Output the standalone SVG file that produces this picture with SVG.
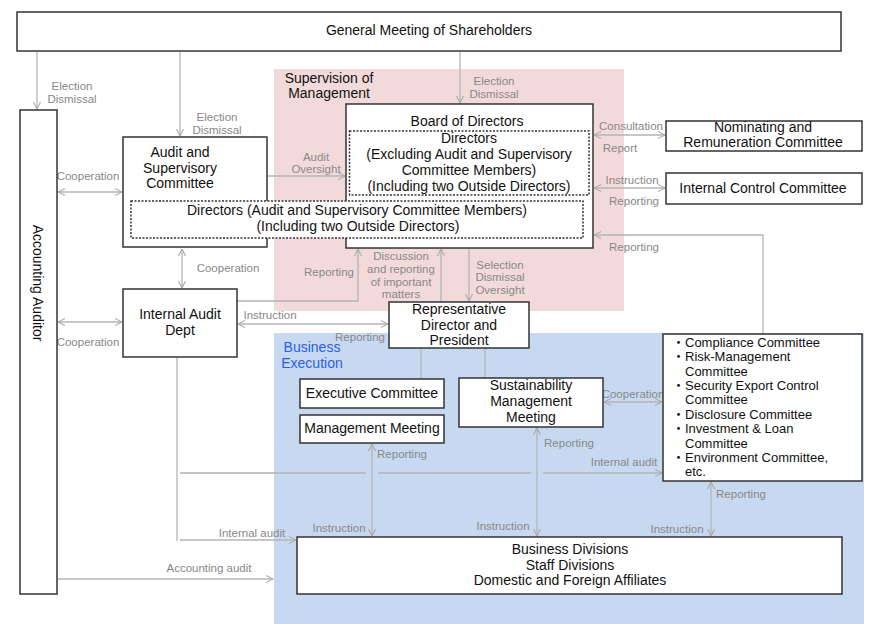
<svg xmlns="http://www.w3.org/2000/svg" width="880" height="630" viewBox="0 0 880 630">
<defs>
<style>
.box{fill:#fff;stroke:#333;stroke-width:1.5}
.dash{fill:none;stroke:#333;stroke-width:1.5;stroke-dasharray:2 1.5}
.t{font-family:"Liberation Sans",Arial,sans-serif;font-size:14px;fill:#111;text-anchor:middle}
.l{font-family:"Liberation Sans",Arial,sans-serif;font-size:11.5px;fill:#888;text-anchor:middle}
.li{font-family:"Liberation Sans","Noto Sans CJK JP",sans-serif;font-size:13px;fill:#111}
.c{fill:none;stroke:#b4b4b4;stroke-width:1.3}
</style>
<marker id="ah" viewBox="0 0 8 8" refX="7.5" refY="4" markerWidth="8" markerHeight="8" markerUnits="userSpaceOnUse" orient="auto-start-reverse">
<path d="M0.5,0.5 L7.5,4 L0.5,7.5" fill="none" stroke="#aaa" stroke-width="1.1"/>
</marker>
</defs>
<rect width="880" height="630" fill="#fff"/>
<g id="regions">
<rect x="274" y="69" width="350" height="242" fill="#f3dada"/>
<rect x="274" y="333" width="590" height="291" fill="#c6d9f0"/>
<text class="t" x="329" y="83">Supervision of</text>
<text class="t" x="329" y="98">Management</text>
<text class="t" x="312" y="352" style="fill:#2a5ee8">Business</text>
<text class="t" x="312" y="368" style="fill:#2a5ee8">Execution</text>
</g>
<g id="connectors">
<path class="c" d="M37,51 V109" marker-end="url(#ah)"/>
<path class="c" d="M180,51 V136" marker-end="url(#ah)"/>
<path class="c" d="M460,51 V103" marker-end="url(#ah)"/>
<path class="c" d="M58,192 H122" marker-start="url(#ah)" marker-end="url(#ah)"/>
<path class="c" d="M263,176 H345" marker-end="url(#ah)"/>
<path class="c" d="M182,249 V288" marker-start="url(#ah)" marker-end="url(#ah)"/>
<path class="c" d="M237,301 H358 V249" marker-end="url(#ah)"/>
<path class="c" d="M441,302 V249" marker-end="url(#ah)"/>
<path class="c" d="M469,249 V301" marker-end="url(#ah)"/>
<path class="c" d="M238,324 H388" marker-start="url(#ah)" marker-end="url(#ah)"/>
<path class="c" d="M58,322 H122" marker-start="url(#ah)" marker-end="url(#ah)"/>
<path class="c" d="M594,135 H665" marker-start="url(#ah)" marker-end="url(#ah)"/>
<path class="c" d="M594,188 H665" marker-start="url(#ah)" marker-end="url(#ah)"/>
<path class="c" d="M763,334 V235 H594" marker-end="url(#ah)"/>
<path class="c" d="M421,348 V379"/>
<path class="c" d="M485,348 V378"/>
<path class="c" d="M604,402 H662" marker-start="url(#ah)" marker-end="url(#ah)"/>
<path class="c" d="M372,444 V536" marker-start="url(#ah)" marker-end="url(#ah)"/>
<path class="c" d="M537,428 V536" marker-start="url(#ah)" marker-end="url(#ah)"/>
<path class="c" d="M711,482 V536" marker-start="url(#ah)" marker-end="url(#ah)"/>
<path class="c" d="M177,358 V541"/>
<path class="c" d="M180,540 H296" marker-end="url(#ah)"/>
<path class="c" d="M180,473 H366 M378,473 H531"/>
<path class="c" d="M543,473 H662" marker-end="url(#ah)"/>
<path class="c" d="M58,579 H273" marker-end="url(#ah)"/>
<text class="l" x="72" y="90">Election</text>
<text class="l" x="72" y="103">Dismissal</text>
<text class="l" x="217" y="121">Election</text>
<text class="l" x="217" y="134">Dismissal</text>
<text class="l" x="494" y="85">Election</text>
<text class="l" x="494" y="98">Dismissal</text>
<text class="l" x="88" y="180">Cooperation</text>
<text class="l" x="316" y="161">Audit</text>
<text class="l" x="316" y="173">Oversight</text>
<text class="l" x="228" y="272">Cooperation</text>
<text class="l" x="329" y="276">Reporting</text>
<text class="l" x="401" y="260">Discussion</text>
<text class="l" x="401" y="273">and reporting</text>
<text class="l" x="401" y="286">of important</text>
<text class="l" x="401" y="298">matters</text>
<text class="l" x="500" y="269">Selection</text>
<text class="l" x="500" y="281">Dismissal</text>
<text class="l" x="500" y="294">Oversight</text>
<text class="l" x="270" y="319">Instruction</text>
<text class="l" x="360" y="341">Reporting</text>
<text class="l" x="88" y="346">Cooperation</text>
<text class="l" x="631" y="130">Consultation</text>
<text class="l" x="620" y="152">Report</text>
<text class="l" x="632" y="184">Instruction</text>
<text class="l" x="634" y="205">Reporting</text>
<text class="l" x="634" y="251">Reporting</text>
<text class="l" x="633" y="398">Cooperation</text>
<text class="l" x="402" y="458">Reporting</text>
<text class="l" x="569" y="447">Reporting</text>
<text class="l" x="624" y="466">Internal audit</text>
<text class="l" x="741" y="498">Reporting</text>
<text class="l" x="339" y="532">Instruction</text>
<text class="l" x="503" y="530">Instruction</text>
<text class="l" x="677" y="533">Instruction</text>
<text class="l" x="252" y="537">Internal audit</text>
<text class="l" x="209" y="572">Accounting audit</text>
</g>
<g id="gms">
<rect class="box" x="17" y="12" width="824" height="39"/>
<text class="t" x="429" y="35">General Meeting of Shareholders</text>
</g>
<g id="auditor">
<rect class="box" x="20" y="110" width="37" height="484"/>
<text class="t" transform="translate(38,283) rotate(90)" y="5">Accounting Auditor</text>
</g>
<g id="asc">
<rect class="box" x="123" y="137" width="144" height="110"/>
<text class="t" x="180" y="157">Audit and</text>
<text class="t" x="180" y="173">Supervisory</text>
<text class="t" x="180" y="188">Committee</text>
</g>
<g id="board">
<rect class="box" x="346" y="104" width="247" height="144"/>
<text class="t" x="467" y="126">Board of Directors</text>
<rect class="dash" x="349.5" y="131" width="239.5" height="64"/>
<text class="t" x="469" y="143">Directors</text>
<text class="t" x="469" y="159">(Excluding Audit and Supervisory</text>
<text class="t" x="469" y="175">Committee Members)</text>
<text class="t" x="469" y="191">(Including two Outside Directors)</text>
</g>
<g id="asc-directors">
<rect class="dash" x="131" y="201" width="452" height="37" fill="#fff" style="fill:#fff"/>
<text class="t" x="357" y="215">Directors (Audit and Supervisory Committee Members)</text>
<text class="t" x="358" y="231">(Including two Outside Directors)</text>
</g>
<g id="nominating">
<rect class="box" x="666" y="121" width="196" height="30"/>
<text class="t" x="763" y="132">Nominating and</text>
<text class="t" x="763" y="147">Remuneration Committee</text>
</g>
<g id="icc">
<rect class="box" x="666" y="173" width="196" height="31"/>
<text class="t" x="763" y="193">Internal Control Committee</text>
</g>
<g id="iad">
<rect class="box" x="123" y="289" width="114" height="68"/>
<text class="t" x="180" y="319">Internal Audit</text>
<text class="t" x="180" y="335">Dept</text>
</g>
<g id="president">
<rect class="box" x="389" y="302" width="140" height="46"/>
<text class="t" x="459" y="314">Representative</text>
<text class="t" x="459" y="330">Director and</text>
<text class="t" x="459" y="345">President</text>
</g>
<g id="executive">
<rect class="box" x="300" y="379" width="144" height="29"/>
<text class="t" x="372" y="398">Executive Committee</text>
</g>
<g id="management">
<rect class="box" x="300" y="415" width="144" height="28"/>
<text class="t" x="372" y="433">Management Meeting</text>
</g>
<g id="sustainability">
<rect class="box" x="459" y="378" width="144" height="49"/>
<text class="t" x="531" y="390">Sustainability</text>
<text class="t" x="531" y="406">Management</text>
<text class="t" x="531" y="422">Meeting</text>
</g>
<g id="committees">
<rect class="box" x="663" y="334" width="199" height="147"/>
<text class="li" x="672" y="346.5">・Compliance Committee</text>
<text class="li" x="672" y="361">・Risk-Management</text>
<text class="li" x="685" y="375.5">Committee</text>
<text class="li" x="672" y="390">・Security Export Control</text>
<text class="li" x="685" y="404">Committee</text>
<text class="li" x="672" y="418.5">・Disclosure Committee</text>
<text class="li" x="672" y="432.5">・Investment &amp; Loan</text>
<text class="li" x="685" y="447.5">Committee</text>
<text class="li" x="672" y="461.5">・Environment Committee,</text>
<text class="li" x="685" y="475.5">etc.</text>
</g>
<g id="divisions">
<rect class="box" x="297" y="537" width="545" height="57"/>
<text class="t" x="570" y="554">Business Divisions</text>
<text class="t" x="570" y="570">Staff Divisions</text>
<text class="t" x="570" y="585">Domestic and Foreign Affiliates</text>
</g>
</svg>
